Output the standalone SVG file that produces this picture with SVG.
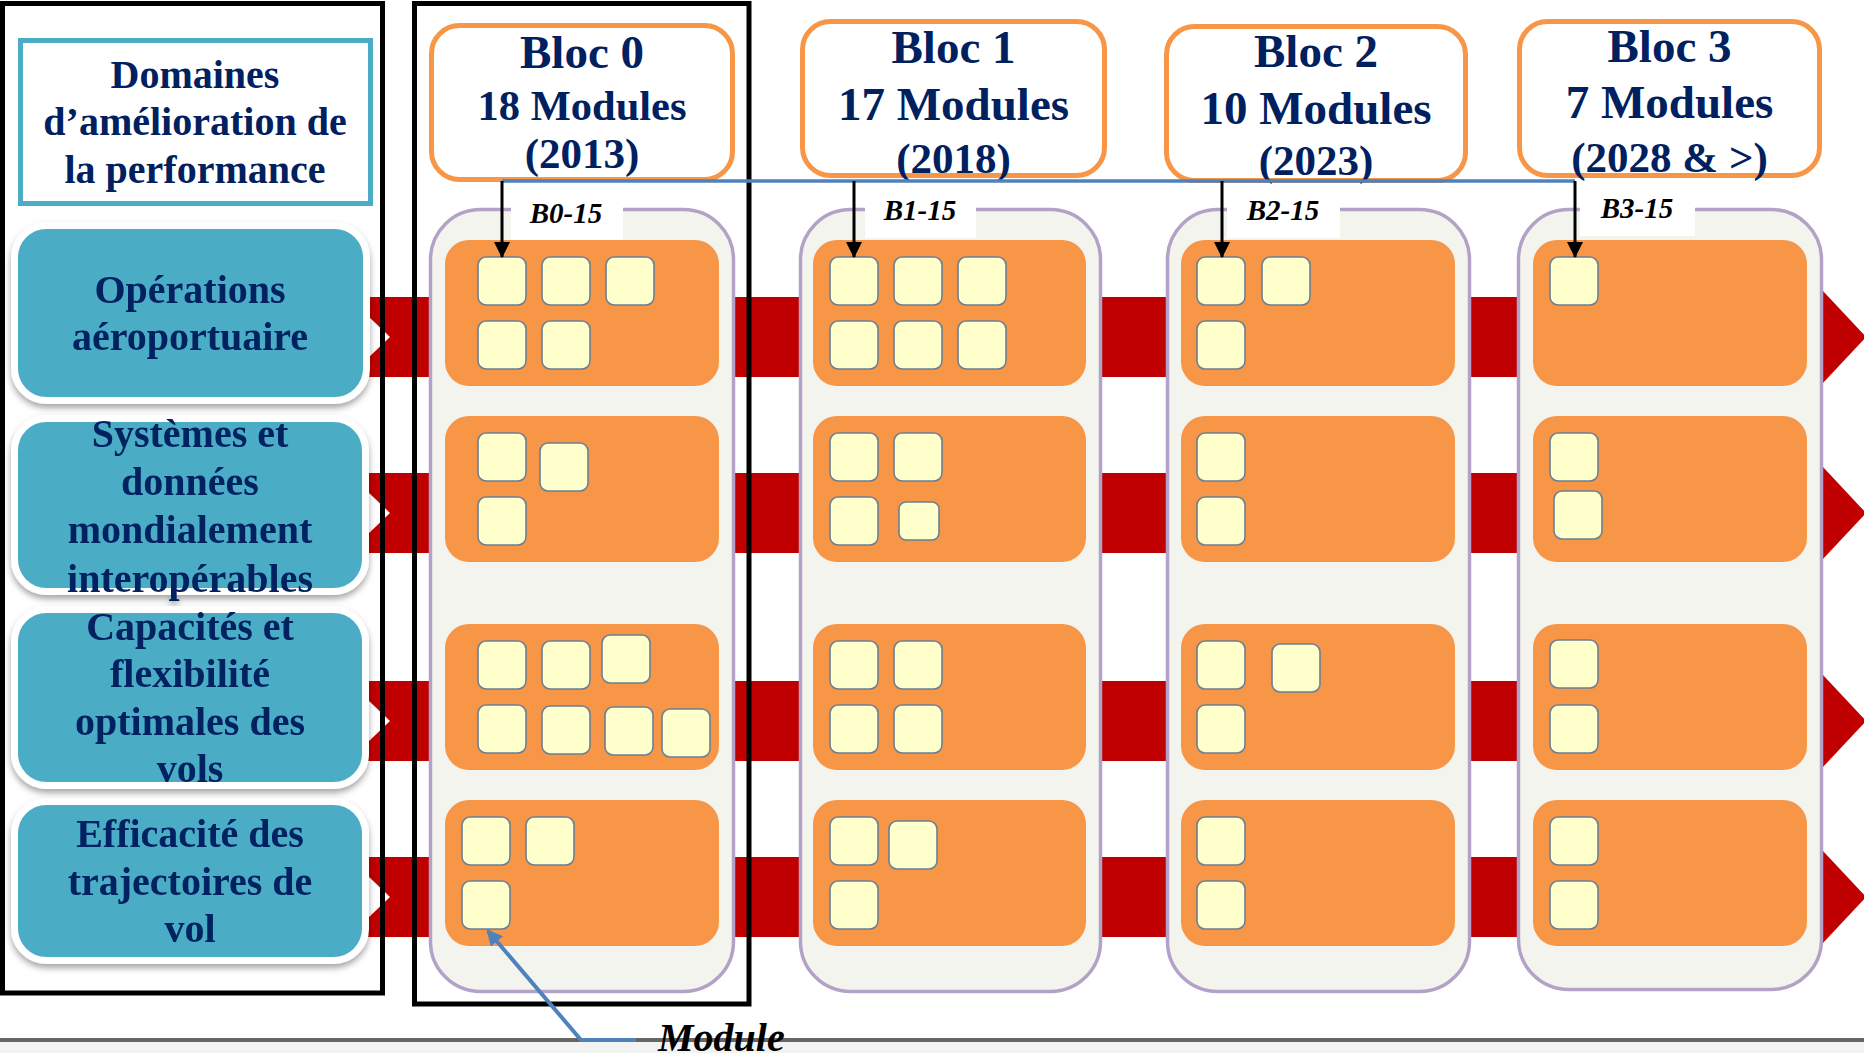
<svg xmlns="http://www.w3.org/2000/svg" width="1864" height="1053" viewBox="0 0 1864 1053">
  <defs>
    <style>
      .domain-box { fill: #4bacc6; stroke: #ffffff; stroke-width: 7; }
      .domain-text { font-family: "Liberation Serif", "Times New Roman", serif; font-weight: bold; font-size: 40px; fill: #002060; text-anchor: middle; }
      .bloc-head { fill: #ffffff; stroke: #f79646; stroke-width: 5; }
      .bloc-text { font-family: "Liberation Serif", "Times New Roman", serif; font-weight: bold; fill: #002060; text-anchor: middle; }
      .container { fill: #f4f4ee; stroke: #b3a2c7; stroke-width: 3.5; }
      .panel { fill: #f79646; }
      .module { fill: #ffffcc; stroke: #6a7f98; stroke-width: 1.6; }
      .tag-bg { fill: #ffffff; }
      .tag { font-family: "Liberation Serif", "Times New Roman", serif; font-weight: bold; font-style: italic; font-size: 29px; fill: #000000; text-anchor: middle; }
      .band { fill: #c00000; }
      .notch { fill: #ffffff; }
      .frame { fill: none; stroke: #000000; stroke-width: 5; }
      .drop { stroke: #000000; stroke-width: 3; fill: none; }
    </style>
    <marker id="arrow-black" viewBox="0 0 16 16" refX="15" refY="8" markerWidth="16" markerHeight="16" markerUnits="userSpaceOnUse" orient="auto">
      <path d="M0,0 L16,8 L0,16 Z" fill="#000000"/>
    </marker>
    <marker id="arrow-blue" viewBox="0 0 14 14" refX="12" refY="7" markerWidth="16" markerHeight="16" markerUnits="userSpaceOnUse" orient="auto">
      <path d="M0,0 L14,7 L0,14 Z" fill="#4f81bd"/>
    </marker>
    <filter id="soft-shadow" x="-10%" y="-10%" width="120%" height="130%">
      <feDropShadow dx="0" dy="4" stdDeviation="3" flood-color="#000000" flood-opacity="0.35"/>
    </filter>
  </defs>

  <rect x="0" y="0" width="1864" height="1053" fill="#ffffff"/>
  <!-- bottom strip -->
  <rect x="0" y="1040" width="1864" height="13" fill="#f2f3f2"/>
  <line x1="0" y1="1040" x2="1864" y2="1040" stroke="#666666" stroke-width="4"/>

  <!-- red timeline bands per domain -->
  <g id="bands">
    <polygon class="band" points="366,297 1823,297 1823,291 1866,337 1823,383 1823,377 366,377"/>
    <polygon class="band" points="366,473 1823,473 1823,467 1866,513 1823,559 1823,553 366,553"/>
    <polygon class="band" points="366,681 1823,681 1823,675 1866,721 1823,767 1823,761 366,761"/>
    <polygon class="band" points="366,857 1823,857 1823,851 1866,897 1823,943 1823,937 366,937"/>
    <polygon class="notch" points="368,316 390,337 368,358"/>
    <polygon class="notch" points="368,492 390,513 368,534"/>
    <polygon class="notch" points="368,700 390,721 368,742"/>
    <polygon class="notch" points="368,876 390,897 368,918"/>
  </g>

  <!-- performance domains column -->
  <g id="domain-header">
    <rect x="20.5" y="40.5" width="350" height="163" fill="#ffffff" stroke="#4bacc6" stroke-width="5"/>
    <text class="domain-text" x="195" y="88">Domaines</text>
    <text class="domain-text" x="195" y="135">d’amélioration de</text>
    <text class="domain-text" x="195" y="183">la performance</text>
  </g>
  <g id="domain-operations" filter="url(#soft-shadow)">
    <rect class="domain-box" x="14.5" y="225.5" width="352" height="175" rx="32"/>
    <text class="domain-text" x="190" y="303">Opérations</text>
    <text class="domain-text" x="190" y="350">aéroportuaire</text>
  </g>
  <g id="domain-systemes" filter="url(#soft-shadow)">
    <rect class="domain-box" x="14.5" y="418.5" width="351" height="173" rx="32"/>
    <text class="domain-text" x="190" y="447">Systèmes et</text>
    <text class="domain-text" x="190" y="495">données</text>
    <text class="domain-text" x="190" y="543">mondialement</text>
    <text class="domain-text" x="190" y="592">interopérables</text>
  </g>
  <g id="domain-capacites" filter="url(#soft-shadow)">
    <rect class="domain-box" x="14.5" y="609.5" width="351" height="176" rx="32"/>
    <text class="domain-text" x="190" y="640">Capacités et</text>
    <text class="domain-text" x="190" y="687">flexibilité</text>
    <text class="domain-text" x="190" y="735">optimales des</text>
    <text class="domain-text" x="190" y="782">vols</text>
  </g>
  <g id="domain-efficacite" filter="url(#soft-shadow)">
    <rect class="domain-box" x="14.5" y="801.5" width="351" height="159" rx="32"/>
    <text class="domain-text" x="190" y="847">Efficacité des</text>
    <text class="domain-text" x="190" y="895">trajectoires de</text>
    <text class="domain-text" x="190" y="942">vol</text>
  </g>

  <!-- Bloc 0 -->
  <g id="bloc-0">
    <rect class="bloc-head" x="431.5" y="25.5" width="301" height="154" rx="28"/>
    <text class="bloc-text" x="582" y="68" font-size="47">Bloc 0</text>
    <text class="bloc-text" x="582" y="120" font-size="42.5">18 Modules</text>
    <text class="bloc-text" x="582" y="168" font-size="43">(2013)</text>
    <rect class="container" x="430.5" y="209.5" width="303" height="782" rx="50"/>
    <rect class="tag-bg" x="511" y="196" width="112" height="44"/>
    <text class="tag" x="566" y="223">B0-15</text>
    <rect class="panel" x="445" y="240" width="274" height="146" rx="24"/>
    <rect class="panel" x="445" y="416" width="274" height="146" rx="24"/>
    <rect class="panel" x="445" y="624" width="274" height="146" rx="24"/>
    <rect class="panel" x="445" y="800" width="274" height="146" rx="24"/>
    <rect class="module" x="478" y="257" width="48" height="48" rx="8"/>
    <rect class="module" x="542" y="257" width="48" height="48" rx="8"/>
    <rect class="module" x="606" y="257" width="48" height="48" rx="8"/>
    <rect class="module" x="478" y="321" width="48" height="48" rx="8"/>
    <rect class="module" x="542" y="321" width="48" height="48" rx="8"/>
    <rect class="module" x="478" y="433" width="48" height="48" rx="8"/>
    <rect class="module" x="540" y="443" width="48" height="48" rx="8"/>
    <rect class="module" x="478" y="497" width="48" height="48" rx="8"/>
    <rect class="module" x="478" y="641" width="48" height="48" rx="8"/>
    <rect class="module" x="542" y="641" width="48" height="48" rx="8"/>
    <rect class="module" x="602" y="635" width="48" height="48" rx="8"/>
    <rect class="module" x="478" y="705" width="48" height="48" rx="8"/>
    <rect class="module" x="542" y="706" width="48" height="48" rx="8"/>
    <rect class="module" x="605" y="707" width="48" height="48" rx="8"/>
    <rect class="module" x="662" y="709" width="48" height="48" rx="8"/>
    <rect class="module" x="462" y="817" width="48" height="48" rx="8"/>
    <rect class="module" x="526" y="817" width="48" height="48" rx="8"/>
    <rect class="module" x="462" y="881" width="48" height="48" rx="8"/>
  </g>

  <!-- Bloc 1 -->
  <g id="bloc-1">
    <rect class="bloc-head" x="802.5" y="21.5" width="302" height="154" rx="28"/>
    <text class="bloc-text" x="953.5" y="63" font-size="47">Bloc 1</text>
    <text class="bloc-text" x="953.5" y="120" font-size="47">17 Modules</text>
    <text class="bloc-text" x="953.5" y="173" font-size="43">(2018)</text>
    <rect class="container" x="800.5" y="209.5" width="300" height="782" rx="50"/>
    <rect class="tag-bg" x="865" y="196" width="111" height="42"/>
    <text class="tag" x="920" y="220">B1-15</text>
    <rect class="panel" x="813" y="240" width="273" height="146" rx="24"/>
    <rect class="panel" x="813" y="416" width="273" height="146" rx="24"/>
    <rect class="panel" x="813" y="624" width="273" height="146" rx="24"/>
    <rect class="panel" x="813" y="800" width="273" height="146" rx="24"/>
    <rect class="module" x="830" y="257" width="48" height="48" rx="8"/>
    <rect class="module" x="894" y="257" width="48" height="48" rx="8"/>
    <rect class="module" x="958" y="257" width="48" height="48" rx="8"/>
    <rect class="module" x="830" y="321" width="48" height="48" rx="8"/>
    <rect class="module" x="894" y="321" width="48" height="48" rx="8"/>
    <rect class="module" x="958" y="321" width="48" height="48" rx="8"/>
    <rect class="module" x="830" y="433" width="48" height="48" rx="8"/>
    <rect class="module" x="894" y="433" width="48" height="48" rx="8"/>
    <rect class="module" x="830" y="497" width="48" height="48" rx="8"/>
    <rect class="module" x="899" y="502" width="40" height="38" rx="7"/>
    <rect class="module" x="830" y="641" width="48" height="48" rx="8"/>
    <rect class="module" x="894" y="641" width="48" height="48" rx="8"/>
    <rect class="module" x="830" y="705" width="48" height="48" rx="8"/>
    <rect class="module" x="894" y="705" width="48" height="48" rx="8"/>
    <rect class="module" x="830" y="817" width="48" height="48" rx="8"/>
    <rect class="module" x="889" y="821" width="48" height="48" rx="8"/>
    <rect class="module" x="830" y="881" width="48" height="48" rx="8"/>
  </g>

  <!-- Bloc 2 -->
  <g id="bloc-2">
    <rect class="bloc-head" x="1166.5" y="26.5" width="299" height="154" rx="28"/>
    <text class="bloc-text" x="1316" y="67" font-size="47">Bloc 2</text>
    <text class="bloc-text" x="1316" y="124" font-size="47">10 Modules</text>
    <text class="bloc-text" x="1316" y="175" font-size="43">(2023)</text>
    <rect class="container" x="1167.5" y="209.5" width="302" height="782" rx="50"/>
    <rect class="tag-bg" x="1227" y="196" width="113" height="42"/>
    <text class="tag" x="1283" y="220">B2-15</text>
    <rect class="panel" x="1181" y="240" width="274" height="146" rx="24"/>
    <rect class="panel" x="1181" y="416" width="274" height="146" rx="24"/>
    <rect class="panel" x="1181" y="624" width="274" height="146" rx="24"/>
    <rect class="panel" x="1181" y="800" width="274" height="146" rx="24"/>
    <rect class="module" x="1197" y="257" width="48" height="48" rx="8"/>
    <rect class="module" x="1262" y="257" width="48" height="48" rx="8"/>
    <rect class="module" x="1197" y="321" width="48" height="48" rx="8"/>
    <rect class="module" x="1197" y="433" width="48" height="48" rx="8"/>
    <rect class="module" x="1197" y="497" width="48" height="48" rx="8"/>
    <rect class="module" x="1197" y="641" width="48" height="48" rx="8"/>
    <rect class="module" x="1272" y="644" width="48" height="48" rx="8"/>
    <rect class="module" x="1197" y="705" width="48" height="48" rx="8"/>
    <rect class="module" x="1197" y="817" width="48" height="48" rx="8"/>
    <rect class="module" x="1197" y="881" width="48" height="48" rx="8"/>
  </g>

  <!-- Bloc 3 -->
  <g id="bloc-3">
    <rect class="bloc-head" x="1519.5" y="21.5" width="300" height="154" rx="28"/>
    <text class="bloc-text" x="1669.5" y="62" font-size="47">Bloc 3</text>
    <text class="bloc-text" x="1669.5" y="118" font-size="47">7 Modules</text>
    <text class="bloc-text" x="1669.5" y="172" font-size="43">(2028 &amp; &gt;)</text>
    <rect class="container" x="1518.5" y="209.5" width="303" height="780" rx="50"/>
    <rect class="tag-bg" x="1580" y="196" width="115" height="40"/>
    <text class="tag" x="1637" y="218">B3-15</text>
    <rect class="panel" x="1533" y="240" width="274" height="146" rx="24"/>
    <rect class="panel" x="1533" y="416" width="274" height="146" rx="24"/>
    <rect class="panel" x="1533" y="624" width="274" height="146" rx="24"/>
    <rect class="panel" x="1533" y="800" width="274" height="146" rx="24"/>
    <rect class="module" x="1550" y="257" width="48" height="48" rx="8"/>
    <rect class="module" x="1550" y="433" width="48" height="48" rx="8"/>
    <rect class="module" x="1554" y="491" width="48" height="48" rx="8"/>
    <rect class="module" x="1550" y="640" width="48" height="48" rx="8"/>
    <rect class="module" x="1550" y="705" width="48" height="48" rx="8"/>
    <rect class="module" x="1550" y="817" width="48" height="48" rx="8"/>
    <rect class="module" x="1550" y="881" width="48" height="48" rx="8"/>
  </g>

  <!-- outline frames -->
  <g id="frames">
    <rect class="frame" x="2.5" y="3.5" width="380" height="989.5"/>
    <rect class="frame" x="414.5" y="3.5" width="334.5" height="1000.5"/>
  </g>

  <!-- connectors -->
  <g id="connectors">
    <line x1="502" y1="181" x2="1575" y2="181" stroke="#4f81bd" stroke-width="3.5"/>
    <line class="drop" x1="502" y1="181" x2="502" y2="257" marker-end="url(#arrow-black)"/>
    <line class="drop" x1="854" y1="181" x2="854" y2="257" marker-end="url(#arrow-black)"/>
    <line class="drop" x1="1222" y1="181" x2="1222" y2="257" marker-end="url(#arrow-black)"/>
    <line class="drop" x1="1575" y1="181" x2="1575" y2="257" marker-end="url(#arrow-black)"/>
    <polyline points="636,1040 581,1040 488,931" fill="none" stroke="#4f81bd" stroke-width="4" marker-end="url(#arrow-blue)"/>
  </g>

  <text x="658" y="1051" font-family="Liberation Serif, Times New Roman, serif" font-weight="bold" font-style="italic" font-size="40" fill="#000000">Module</text>
</svg>
